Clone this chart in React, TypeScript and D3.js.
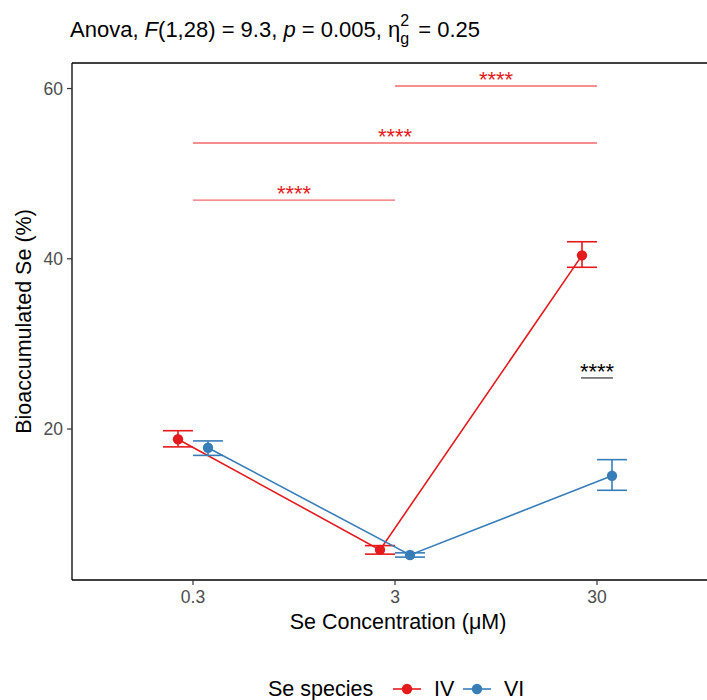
import React from "react";
import * as d3 from "d3";

const concentrations = ["0.3", "3", "30"];
const species = ["IV", "VI"];
const ivMean = [18.8, 5.8, 40.4];
const ivLow = [17.9, 5.3, 39.0];
const ivHigh = [19.8, 6.3, 42.0];
const viMean = [17.8, 5.2, 14.5];
const viLow = [16.9, 4.95, 12.8];
const viHigh = [18.6, 5.45, 16.4];
const yTicks = [20, 40, 60];
const brackets = [
  { from: "3", to: "30", y: 60.3, label: "****" },
  { from: "0.3", to: "30", y: 53.6, label: "****" },
  { from: "0.3", to: "3", y: 46.9, label: "****" },
];
const groupBracket = { at: "30", y: 26.0, label: "****" };

const colors: Record<string, string> = { IV: "#E41A1C", VI: "#377EB8" };
const FONT = "'Liberation Sans', Arial, Helvetica, sans-serif";

export default function App() {
  const W = 707, H = 700;
  const left = 72, top = 63, bottom = 580;
  const x = d3.scalePoint<string>().domain(concentrations).range([193, 597]);
  const y = d3.scaleLinear().domain([2.26, 63.0]).range([bottom, top]);
  const dodge = 15;
  const capHalf = 15;
  const line = d3.line<[number, number]>().x((d) => d[0]).y((d) => d[1]);

  const series = [
    { name: "IV", mean: ivMean, low: ivLow, high: ivHigh, off: -dodge },
    { name: "VI", mean: viMean, low: viLow, high: viHigh, off: dodge },
  ];
  const legendKeys = [393, 463];

  return (
    <svg width={W} height={H} style={{ position: "absolute", left: 0, top: 0, background: "#fff" }} fontFamily={FONT}>
      <rect x={0} y={0} width={W} height={H} fill="#fff" />
      {/* title */}
      <text x={70} y={37} fontSize={22} fill="#000">
        <tspan>Anova, </tspan>
        <tspan fontStyle="italic">F</tspan>
        <tspan>(1,28) = 9.3, </tspan>
        <tspan fontStyle="italic">p</tspan>
        <tspan> = 0.005, η</tspan>
        <tspan fontSize={16} dy={7}>g</tspan>
        <tspan fontSize={16} dy={-18} dx={-9}>2</tspan>
        <tspan dy={11} dx={3}> = 0.25</tspan>
      </text>

      {/* panel border (right side lies beyond the image) */}
      <line x1={left} x2={W} y1={top} y2={top} stroke="#000" strokeWidth={1.3} />
      <line x1={left} x2={W} y1={bottom} y2={bottom} stroke="#000" strokeWidth={1.3} />
      <line x1={left} x2={left} y1={top} y2={bottom} stroke="#000" strokeWidth={1.3} />

      {/* y axis ticks */}
      {yTicks.map((t) => (
        <g key={t}>
          <line x1={left - 5} x2={left} y1={y(t)} y2={y(t)} stroke="#333" strokeWidth={1.2} />
          <text x={left - 9} y={y(t)} dy="0.36em" textAnchor="end" fontSize={17.5} fill="#4D4D4D">{t}</text>
        </g>
      ))}
      {/* x axis ticks */}
      {concentrations.map((c) => (
        <g key={c}>
          <line x1={x(c)!} x2={x(c)!} y1={bottom} y2={bottom + 5} stroke="#333" strokeWidth={1.2} />
          <text x={x(c)!} y={603} textAnchor="middle" fontSize={17.5} fill="#4D4D4D">{c}</text>
        </g>
      ))}
      <text x={398} y={629} textAnchor="middle" fontSize={21.5} fill="#000">Se Concentration (μM)</text>
      <text transform={`translate(31,${(top + bottom) / 2}) rotate(-90)`} textAnchor="middle" fontSize={21.5} fill="#000">Bioaccumulated Se (%)</text>

      {/* brackets */}
      {brackets.map((b, i) => (
        <g key={i}>
          <line x1={x(b.from)!} x2={x(b.to)!} y1={y(b.y)} y2={y(b.y)} stroke="#F26A6A" strokeWidth={1.3} />
          <text x={(x(b.from)! + x(b.to)!) / 2} y={y(b.y) + 1} textAnchor="middle" fontSize={22} fill="#E41A1C">{b.label}</text>
        </g>
      ))}

      {/* lines, error bars, points */}
      {series.map((s) => {
        const pts: [number, number][] = s.mean.map((m, i) => [x(concentrations[i])! + s.off, y(m)]);
        return (
          <g key={s.name}>
            <path d={line(pts)!} fill="none" stroke={colors[s.name]} strokeWidth={1.6} />
            {s.mean.map((m, i) => {
              const cx = x(concentrations[i])! + s.off;
              return (
                <g key={i}>
                  <line x1={cx} x2={cx} y1={y(s.low[i])} y2={y(s.high[i])} stroke={colors[s.name]} strokeWidth={1.6} />
                  <line x1={cx - capHalf} x2={cx + capHalf} y1={y(s.low[i])} y2={y(s.low[i])} stroke={colors[s.name]} strokeWidth={1.6} />
                  <line x1={cx - capHalf} x2={cx + capHalf} y1={y(s.high[i])} y2={y(s.high[i])} stroke={colors[s.name]} strokeWidth={1.6} />
                  <circle cx={cx} cy={y(m)} r={5.2} fill={colors[s.name]} />
                </g>
              );
            })}
          </g>
        );
      })}

      {/* group comparison bracket */}
      <g>
        <line x1={x(groupBracket.at)! - dodge - 1} x2={x(groupBracket.at)! + dodge + 1} y1={y(groupBracket.y)} y2={y(groupBracket.y)} stroke="#444" strokeWidth={1.3} />
        <text x={x(groupBracket.at)!} y={y(groupBracket.y) + 1} textAnchor="middle" fontSize={22} fill="#000">{groupBracket.label}</text>
      </g>

      {/* legend */}
      <text x={268} y={696} fontSize={21.5} fill="#000">Se species</text>
      {species.map((sp, i) => {
        const kx = legendKeys[i];
        return (
          <g key={sp}>
            <line x1={kx} x2={kx + 28} y1={689} y2={689} stroke={colors[sp]} strokeWidth={1.6} />
            <circle cx={kx + 14} cy={689} r={5.2} fill={colors[sp]} />
            <text x={kx + 41} y={696} fontSize={21.5} fill="#000">{sp}</text>
          </g>
        );
      })}
    </svg>
  );
}
